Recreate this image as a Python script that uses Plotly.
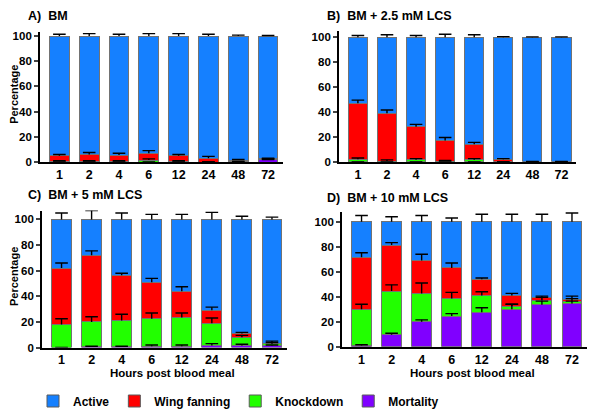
import numpy as np
import plotly.graph_objects as go

hours = ["1", "2", "4", "6", "12", "24", "48", "72"]
series_names = ["Mortality", "Knockdown", "Wing fanning", "Active"]
series_colors = ["#8000FF", "#22FF00", "#FF0000", "#1580FF"]

# Panel A) BM
mort_A = [0, 0, 0, 0, 0, 0, 0, 2]
kd_A = [0.5, 0.5, 0.5, 1.5, 0.5, 0, 0.5, 0]
wf_A = [4.5, 5.5, 5, 5.5, 4.5, 3, 1, 0.5]
act_A = [95, 94, 94.5, 93, 95, 97, 98.5, 97.5]
err_mort_A = [0, 0, 0, 0, 0, 0, 0, 0.5]
err_kd_A = [0.5, 0.5, 0.5, 1, 0.5, 0, 0, 0]
err_wf_A = [1, 1.5, 1.5, 2, 1, 1.5, 0.5, 0.5]
err_act_A = [1.5, 2, 1.5, 2, 2, 1.5, 0.8, 0.5]

# Panel B) BM + 2.5 mM LCS
mort_B = [0, 0, 0, 0, 0, 0, 0, 0]
kd_B = [2, 0.5, 1.5, 0.5, 1.5, 0, 0, 0]
wf_B = [45, 38.5, 26.5, 16.5, 12.5, 2, 0, 0]
act_B = [53, 61, 72, 83, 86, 98, 100, 100]
err_mort_B = [0, 0, 0, 0, 0, 0, 0, 0]
err_kd_B = [1, 1, 1, 0.5, 1, 0, 0, 0]
err_wf_B = [2.5, 2.5, 2, 2.5, 1.5, 0.5, 0.3, 0.3]
err_act_B = [1.5, 2, 1.5, 2.5, 2, 0.5, 0.3, 0.3]

# Panel C) BM + 5 mM LCS
mort_C = [0, 0.5, 0.5, 1, 1, 1.5, 1.5, 1.5]
kd_C = [18, 19.5, 20.5, 21.5, 22.5, 17.5, 6.5, 1.5]
wf_C = [44, 52, 35.5, 28.5, 20.5, 10, 3, 0.3]
act_C = [38, 28, 43.5, 49, 56, 71, 89, 96.7]
err_mort_C = [0, 0.5, 0.5, 1, 1, 1.5, 1, 0.5]
err_kd_C = [4.5, 4, 5, 4.5, 3.5, 4, 1.5, 2]
err_wf_C = [4, 3.5, 1.5, 3, 3.5, 2.5, 0.8, 0.5]
err_act_C = [5, 7, 5, 4, 4, 5.5, 2.5, 1.8]

# Panel D) BM + 10 mM LCS
mort_D = [1, 9.5, 20, 24.5, 27.5, 30, 33.5, 34.5]
kd_D = [29, 35, 22.5, 14, 13.5, 2.5, 3.5, 2]
wf_D = [41.5, 36.8, 26.5, 24.5, 13, 8.5, 2.5, 1.5]
act_D = [28.5, 18.7, 31, 37, 46, 59, 60.5, 62]
err_mort_D = [0.6, 1.3, 1.5, 2, 3.7, 4, 3, 2]
err_kd_D = [4, 5, 8.5, 5, 3, 1.5, 2.5, 2]
err_wf_D = [3.7, 2, 5, 4, 1, 1.7, 1, 2.5]
err_act_D = [5, 4, 5, 3, 6, 6, 6, 7]

panel_titles = ["A)  BM", "B)  BM + 2.5 mM LCS", "C)  BM + 5 mM LCS", "D)  BM + 10 mM LCS"]
y_tick_vals = [0, 20, 40, 60, 80, 100]
x_title = "Hours post blood meal"
y_title = "Percentage"

panels = [
    ([mort_A, kd_A, wf_A, act_A], [err_mort_A, err_kd_A, err_wf_A, err_act_A]),
    ([mort_B, kd_B, wf_B, act_B], [err_mort_B, err_kd_B, err_wf_B, err_act_B]),
    ([mort_C, kd_C, wf_C, act_C], [err_mort_C, err_kd_C, err_wf_C, err_act_C]),
    ([mort_D, kd_D, wf_D, act_D], [err_mort_D, err_kd_D, err_wf_D, err_act_D]),
]

W, H = 600, 411
# pixel layout for each panel: (x_left, x_right, y_zero_px, y_top_px, y_max)
geom = [
    (40, 283, 162, 31.7, 103.5),
    (339, 576, 161.7, 30.7, 105.3),
    (42, 287, 347.5, 210.5, 107),
    (342, 587, 346.7, 211.7, 108),
]
title_pos = [(26, 16), (325, 16), (26, 195), (325, 198)]

FONT = "Liberation Sans, Arial, Helvetica, sans-serif"

fig = go.Figure()
for p, (vals, errs) in enumerate(panels):
    xa = "x" if p == 0 else f"x{p+1}"
    ya = "y" if p == 0 else f"y{p+1}"
    for s in range(4):
        fig.add_trace(go.Bar(
            x=hours, y=vals[s], name=series_names[s],
            marker=dict(color=series_colors[s], line=dict(color="rgb(115,115,115)", width=1)),
            xaxis=xa, yaxis=ya, showlegend=False,
        ))
    cum = np.cumsum(np.array(vals, dtype=float), axis=0)
    for s in range(4):
        tops = cum[s] + np.array(errs[s], dtype=float)
        # error bar stem from segment top up to the cap, cap drawn as a horizontal marker
        fig.add_trace(go.Scatter(
            x=hours, y=tops, mode="markers",
            marker=dict(symbol="line-ew", size=9, color="black",
                        line=dict(color="black", width=1.4)),
            error_y=dict(type="data", symmetric=False, array=[0] * len(hours),
                         arrayminus=errs[s], color="black", thickness=1.4, width=0),
            xaxis=xa, yaxis=ya, showlegend=False, hoverinfo="skip",
        ))

# legend entries (order Active, Wing fanning, Knockdown, Mortality)
for s in [3, 2, 1, 0]:
    fig.add_trace(go.Bar(
        x=[None], y=[None], name=series_names[s],
        marker=dict(color=series_colors[s], line=dict(color="rgb(90,90,90)", width=1)),
        showlegend=True,
    ))

layout = dict(
    width=W, height=H,
    margin=dict(l=0, r=0, t=0, b=0, autoexpand=False),
    paper_bgcolor="white", plot_bgcolor="white",
    barmode="stack", bargap=0.34,
    font=dict(family=FONT, color="black", size=12),
    showlegend=True,
    legend=dict(orientation="h", x=33 / W, xanchor="left", y=(H - 401) / H, yanchor="middle",
                font=dict(family=FONT, size=12, weight="bold"),
                traceorder="normal", itemwidth=30, tracegroupgap=0,
                bgcolor="rgba(0,0,0,0)"),
)

annotations = []
for p, (xl, xr, y0, yt, ymax) in enumerate(geom):
    sfx = "" if p == 0 else str(p + 1)
    layout["xaxis" + sfx] = dict(
        domain=[xl / W, xr / W], anchor="y" + sfx, type="category",
        range=[-0.65, 7.5], showline=True, linecolor="black", linewidth=1.8,
        ticks="", showgrid=False, zeroline=False, automargin=False,
        tickfont=dict(family=FONT, size=12.5, weight="bold"),
    )
    layout["yaxis" + sfx] = dict(
        domain=[(H - y0) / H, (H - yt) / H], anchor="x" + sfx,
        range=[0, ymax], tickvals=y_tick_vals, showline=True, linecolor="black",
        linewidth=1.8, ticks="outside", ticklen=4, tickwidth=1.5, showgrid=False,
        zeroline=False, automargin=False,
        tickfont=dict(family=FONT, size=11.5, weight="bold"),
    )
    tx, ty = title_pos[p]
    annotations.append(dict(
        text=panel_titles[p], x=tx / W, y=(H - ty) / H, xref="paper", yref="paper",
        xanchor="left", yanchor="middle", showarrow=False,
        font=dict(family=FONT, size=12.5, weight="bold"),
    ))

for p in [2, 3]:
    xl, xr = geom[p][0], geom[p][1]
    annotations.append(dict(
        text=x_title, x=((xl + xr) / 2 + 8) / W, y=(H - 373) / H, xref="paper", yref="paper",
        xanchor="center", yanchor="middle", showarrow=False,
        font=dict(family=FONT, size=11.5, weight="bold"),
    ))
for p in [0, 2]:
    y0, yt = geom[p][2], geom[p][3]
    annotations.append(dict(
        text=y_title, x=14 / W, y=(H - (y0 + yt) / 2 + 2) / H, xref="paper", yref="paper",
        xanchor="center", yanchor="middle", showarrow=False, textangle=-90,
        font=dict(family=FONT, size=11, weight="bold"),
    ))

layout["annotations"] = annotations
fig.update_layout(**layout)
fig.write_html(
    "out.html",
    config={"displayModeBar": False},
    post_script="document.body.style.margin='0px';document.body.style.padding='0px';"
                "document.body.style.overflow='hidden';",
)
